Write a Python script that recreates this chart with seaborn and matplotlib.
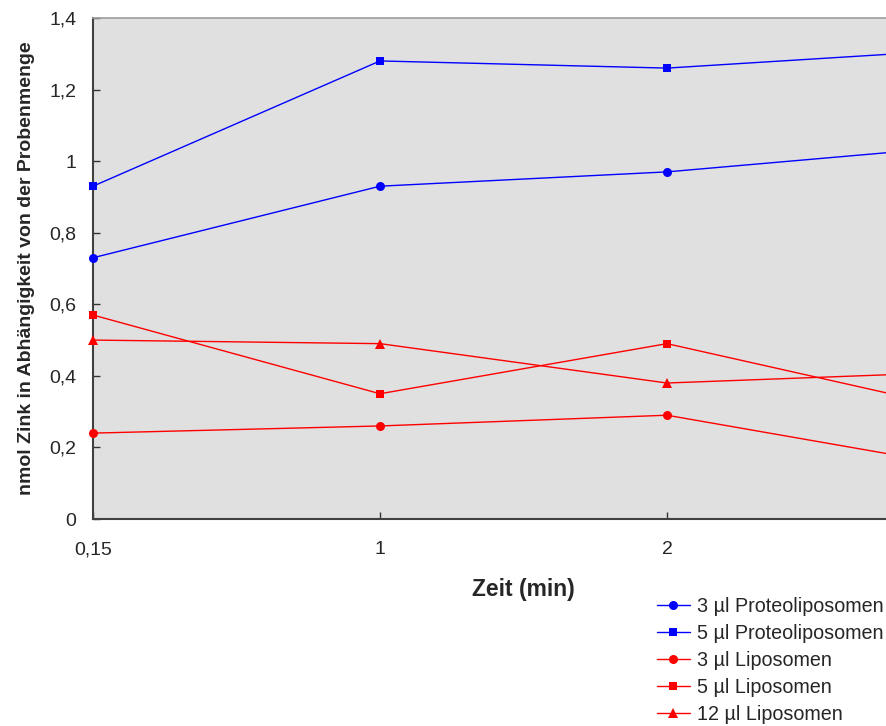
import numpy as np
import pandas as pd
import seaborn as sns
from matplotlib import pyplot as plt

# time points (category axis), 4th point lies outside the visible picture
zeit = ["0,15", "1", "2", ""]

proteo_3 = [0.73, 0.93, 0.97, 1.04]
proteo_5 = [0.93, 1.28, 1.26, 1.31]
lipo_3 = [0.24, 0.26, 0.29, 0.15]
lipo_5 = [0.57, 0.35, 0.49, 0.31]
lipo_12 = [0.50, 0.49, 0.38, 0.41]

series = [
    ("3 µl Proteoliposomen", proteo_3, "#0000FF", "o", 6.5),
    ("5 µl Proteoliposomen", proteo_5, "#0000FF", "s", 6.3),
    ("3 µl Liposomen", lipo_3, "#FF0000", "o", 6.5),
    ("5 µl Liposomen", lipo_5, "#FF0000", "s", 6.3),
    ("12 µl Liposomen", lipo_12, "#FF0000", "^", 6.5),
]

sns.set_theme(style="white")
plt.rcParams['font.family'] = ['Liberation Sans', 'DejaVu Sans']

fig = plt.figure(figsize=(8.86, 7.26), dpi=100)
# plot area runs past the right edge of the picture (as in the original)
ax = fig.add_axes([93 / 886, 207 / 726, 861 / 886, 501 / 726])
ax.set_facecolor("#E0E0E0")

for name, vals, col, mk, ms in series:
    df = pd.DataFrame({"pos": np.arange(len(zeit)), "val": vals})
    sns.lineplot(data=df, x="pos", y="val", ax=ax, color=col, marker=mk,
                 markersize=ms, markeredgewidth=0, linewidth=1, label=name,
                 clip_on=False, zorder=3)

ax.set_xlim(0, len(zeit) - 1)
ax.set_ylim(0, 1.4)
yt = np.arange(0, 1.41, 0.2)
ax.set_yticks(yt)
ax.set_yticklabels([("%g" % round(v, 1)).replace(".", ",") for v in yt])
ax.set_xticks(np.arange(len(zeit)))
ax.set_xticklabels(zeit)

ax.tick_params(axis="y", direction="in", length=5, width=1, color="#333333",
               labelsize=14, pad=12, left=True)
ax.tick_params(axis="x", direction="in", length=5, width=1, color="#333333",
               labelsize=14, pad=16, bottom=True)

for s in ["left", "bottom"]:
    ax.spines[s].set_color("#404040")
    ax.spines[s].set_linewidth(1.5)
ax.spines["top"].set_color("#A0A0A0")
ax.spines["right"].set_visible(False)

ax.set_xlabel("Zeit (min)", fontsize=16.5, fontweight="bold", labelpad=14)
ax.set_ylabel("nmol Zink in Abhängigkeit von der Probenmenge", fontsize=14,
              fontweight="bold", labelpad=10)

handles, labels = ax.get_legend_handles_labels()
ax.get_legend().remove()
fig.legend(handles, labels, loc="upper left", bbox_to_anchor=(657 / 886, 1 - 597 / 726),
           frameon=False, fontsize=14.2, handlelength=1.65, handletextpad=0.4,
           labelspacing=0.4, borderaxespad=0, borderpad=0)

fig.savefig("out.png", dpi=100)
